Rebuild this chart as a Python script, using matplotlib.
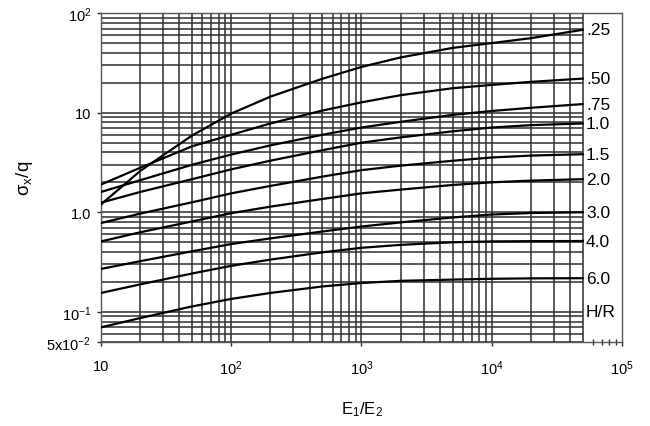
import matplotlib
matplotlib.use("Agg")
import matplotlib.pyplot as plt

plt.rcParams["font.family"] = ["Liberation Sans", "DejaVu Sans"]
plt.rcParams["mathtext.fontset"] = "custom"
plt.rcParams["mathtext.rm"] = "Liberation Sans"
plt.rcParams["mathtext.it"] = "Liberation Sans:italic"
plt.rcParams["mathtext.default"] = "regular"

# E1/E2 sample points
E_RATIO = [10, 20, 50, 100, 200, 500, 1000, 2000, 5000, 1e4, 2e4, 5e4]

# sigma_x / q for each H/R
S_025 = [1.2, 2.6, 5.9, 9.8, 14.5, 21.9, 28.8, 35.9, 44.7, 50.0, 56.0, 68.0]
S_050 = [1.9, 2.8, 4.6, 6.0, 7.8, 10.5, 12.7, 15.0, 17.6, 19.0, 20.4, 22.0]
S_075 = [1.6, 2.1, 3.0, 3.8, 4.7, 6.0, 7.1, 8.1, 9.5, 10.4, 11.2, 12.2]
S_100 = [1.25, 1.6, 2.15, 2.7, 3.3, 4.2, 5.0, 5.65, 6.5, 7.1, 7.5, 7.8]
S_150 = [0.78, 0.97, 1.26, 1.55, 1.84, 2.28, 2.65, 2.94, 3.29, 3.55, 3.71, 3.83]
S_200 = [0.51, 0.63, 0.81, 0.98, 1.14, 1.36, 1.55, 1.69, 1.88, 2.0, 2.08, 2.15]
S_300 = [0.27, 0.323, 0.406, 0.48, 0.547, 0.641, 0.72, 0.792, 0.887, 0.95, 0.984, 1.0]
S_400 = [0.155, 0.189, 0.243, 0.29, 0.335, 0.396, 0.44, 0.471, 0.50, 0.51, 0.513, 0.515]
S_600 = [0.07, 0.0867, 0.1135, 0.135, 0.155, 0.18, 0.195, 0.205, 0.211, 0.215, 0.217, 0.218]

CURVES = [S_025, S_050, S_075, S_100, S_150, S_200, S_300, S_400, S_600]
CURVE_LABELS = [".25", ".50", ".75", "1.0", "1.5", "2.0", "3.0", "4.0", "6.0"]

YTICKS = [5e-2, 1e-1, 1.0, 10, 100]
YTICK_LABELS = [r"5x10$^{-2}$", r"10$^{-1}$", "1.0", "10", r"10$^{2}$"]
XTICKS = [10, 100, 1000, 1e4, 1e5]
XTICK_LABELS = ["10", r"10$^{2}$", r"10$^{3}$", r"10$^{4}$", r"10$^{5}$"]

X_GRID_END = 5e4
XMIN, XMAX = 10, 1e5
YMIN, YMAX = 5e-2, 100

fig = plt.figure(figsize=(6.5, 4.27), dpi=100)
ax = fig.add_axes([0.1554, 0.197, 0.8015, 0.770])
ax.set_xscale("log")
ax.set_yscale("log")
ax.set_xlim(XMIN, XMAX)
ax.set_ylim(YMIN, YMAX)

grid_c = "#2e2e2e"
# log grid, stops at E1/E2 = 5x10^4 (label column to the right)
xg = [m * 10 ** d for d in range(1, 5) for m in range(1, 10) if m * 10 ** d <= X_GRID_END]
yg = [m * 10 ** d for d in range(-2, 2) for m in range(1, 10) if YMIN <= m * 10 ** d <= YMAX] + [YMAX]
ax.vlines(xg, YMIN, YMAX, colors=grid_c, lw=1.1, zorder=1)
ax.hlines(yg, XMIN, X_GRID_END, colors=grid_c, lw=1.1, zorder=1)

for s in CURVES:
    ax.plot(E_RATIO, s, color="black", lw=1.6, zorder=3)

for s, lab in zip(CURVES, CURVE_LABELS):
    ax.text(5.3e4, s[-1], lab, fontsize=12.5, va="center", ha="left", zorder=4)
ax.text(5.3e4, 0.1, "H/R", fontsize=12.5, va="center", ha="left")

ax.set_xticks(XTICKS)
ax.set_xticklabels(XTICK_LABELS)
ax.set_yticks(YTICKS)
ax.set_yticklabels(YTICK_LABELS)
ax.minorticks_off()
ax.set_xticks([m * 1e4 for m in range(6, 10)], minor=True)
ax.tick_params(axis="both", which="major", labelsize=10.5, length=3, width=1, color=grid_c)
ax.tick_params(axis="x", which="major", pad=9)
ax.tick_params(axis="y", which="major", pad=4)
ax.tick_params(axis="x", which="minor", length=4, width=1, color=grid_c, direction="inout")

for sp in ax.spines.values():
    sp.set_color("#555555")
    sp.set_linewidth(1.0)

ax.set_ylabel(r"$\sigma_x$/q", fontsize=13.5, labelpad=8)
ax.set_xlabel(r"E$_1$/E$_2$", fontsize=12, labelpad=16)

fig.savefig("out.png", dpi=100)
